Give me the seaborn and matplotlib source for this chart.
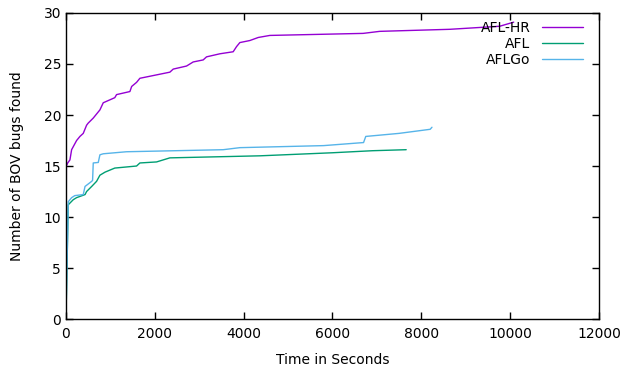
"""Recreate the BOV bugs-over-time chart (gnuplot look) with seaborn."""

import matplotlib
matplotlib.use("Agg")
import matplotlib.pyplot as plt
import pandas as pd
import seaborn as sns

# Values
afl_hr_time = [0, 10, 40, 90, 128, 240, 315, 390, 465, 500, 615, 765, 840, 1100, 1140,
               1440, 1480, 1590, 1665, 1890, 2340, 2415, 2715, 2865, 3090, 3165, 3465,
               3765, 3840, 3915, 4140, 4330, 4590, 6690, 7065, 8640, 9765, 10000, 10080]
afl_hr_bugs = [0, 15.0, 15.3, 15.6, 16.6, 17.5, 17.9, 18.2, 19.0, 19.2, 19.7, 20.5, 21.2,
               21.7, 22.0, 22.3, 22.8, 23.2, 23.6, 23.8, 24.2, 24.5, 24.8, 25.2, 25.4,
               25.7, 26.0, 26.2, 26.7, 27.1, 27.3, 27.6, 27.8, 28.0, 28.2, 28.4, 28.7,
               29.0, 29.1]

afl_time = [0, 52, 165, 240, 430, 465, 580, 690, 765, 880, 1100, 1590, 1665, 2040, 2340,
            4365, 6000, 6900, 7660]
afl_bugs = [0, 11.2, 11.7, 11.9, 12.2, 12.5, 13.0, 13.5, 14.1, 14.4, 14.8, 15.0, 15.3,
            15.4, 15.8, 16.0, 16.3, 16.5, 16.6]

aflgo_time = [0, 52, 128, 200, 390, 430, 580, 600, 615, 728, 765, 840, 1365, 3540, 3915,
              5800, 6700, 6750, 7500, 8200, 8240]
aflgo_bugs = [0, 11.5, 11.9, 12.1, 12.2, 13.0, 13.5, 13.6, 15.3, 15.35, 16.1, 16.2, 16.4,
              16.6, 16.8, 17.0, 17.3, 17.9, 18.2, 18.6, 18.8]

series_names = ["AFL-HR", "AFL", "AFLGo"]
series_colors = ["#9400d3", "#009e73", "#56b4e9"]


def build_frame() -> pd.DataFrame:
    parts = []
    for name, t, b in [("AFL-HR", afl_hr_time, afl_hr_bugs),
                       ("AFL", afl_time, afl_bugs),
                       ("AFLGo", aflgo_time, aflgo_bugs)]:
        parts.append(pd.DataFrame({"time": t, "bugs": b, "fuzzer": name}))
    return pd.concat(parts, ignore_index=True)


def main() -> None:
    sns.set_style("ticks")
    plt.rcParams["font.family"] = ["DejaVu Sans"]
    plt.rcParams["text.color"] = "black"
    plt.rcParams["axes.labelcolor"] = "black"

    df = build_frame()

    fig = plt.figure(figsize=(6.22, 3.71), dpi=100)
    ax = fig.add_axes([0.106, 0.140, 0.857, 0.825])

    sns.lineplot(data=df, x="time", y="bugs", hue="fuzzer", hue_order=series_names,
                 palette=series_colors, linewidth=1.0, sort=False, estimator=None, ax=ax)

    ax.set_xlim(0, 12000)
    ax.set_ylim(0, 30)
    ax.set_xticks(range(0, 12001, 2000))
    ax.set_yticks(range(0, 31, 5))
    ax.tick_params(direction="in", top=True, right=True, length=5, width=1,
                   labelsize=10, colors="black")
    ax.tick_params(axis="x", pad=6)
    for spine in ax.spines.values():
        spine.set_visible(True)
        spine.set_color("black")
        spine.set_linewidth(1)

    ax.set_xlabel("Time in Seconds", fontsize=10, labelpad=8, color="black")
    ax.set_ylabel("Number of BOV bugs found", fontsize=10, labelpad=14, color="black")

    leg = ax.legend(loc="upper right", frameon=False, markerfirst=False, fontsize=10,
                    handlelength=3.0, labelspacing=0.15, borderaxespad=0.15,
                    bbox_to_anchor=(0.985, 1.0))
    for txt in leg.get_texts():
        txt.set_color("black")

    fig.savefig("out.png", dpi=100)
    plt.close(fig)


if __name__ == "__main__":
    main()
